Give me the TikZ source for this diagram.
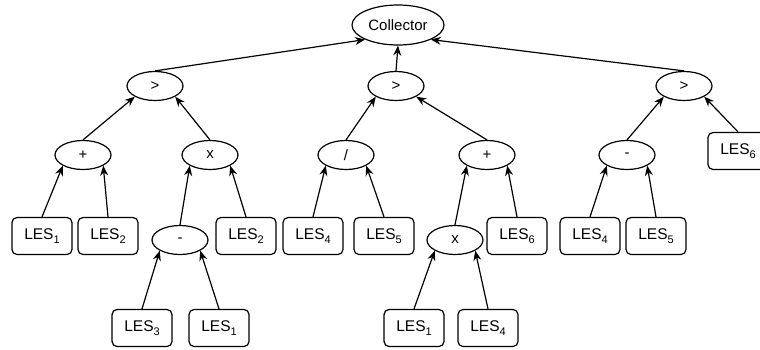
\documentclass[tikz,border=0pt]{standalone}
\usepackage{fontspec}
\setmainfont{Liberation Sans}
\usepackage{tikz}
\usetikzlibrary{
    arrows.meta,
    shapes.geometric,
}

\newcommand{\les}[1]{LES\raisebox{-3.5pt}{\fontsize{11}{12}\selectfont #1}}

\begin{document}
\begin{tikzpicture}[
        x=1pt, y=-1pt,
        >={Stealth[length=10pt, width=8pt]},
        op/.style={
            ellipse, draw=black, line width=1.2pt, fill=white,
            minimum width=56pt, minimum height=29pt, inner sep=0pt,
            font=\fontsize{15}{18}\selectfont
        },
        root/.style={op, minimum width=92pt, minimum height=40pt},
        leaf/.style={
            rectangle, rounded corners=5pt, draw=black, line width=1.2pt,
            fill=white, minimum width=60pt, minimum height=37pt,
            inner sep=0pt, font=\fontsize{15.5}{18}\selectfont
        },
        arrow/.style={->, line width=1.2pt, black},
    ]

    \useasboundingbox (0,0) rectangle (760,349);

    % ── Row 1: collector ──
    \node[root] (col) at (398,25) {Collector};

    % ── Row 2: comparisons ──
    \node[op] (gtA) at (155,86) {>};
    \node[op] (gtB) at (396,86) {>};
    \node[op] (gtC) at (684,86) {>};

    % ── Row 3: operators ──
    \node[op] (plusA) at (83,155) {+};
    \node[op] (timesA) at (210,155) {x};
    \node[op] (divB) at (346,155) {/};
    \node[op] (plusB) at (487,155) {+};
    \node[op] (minusC) at (627,155) {-};
    \node[leaf] (lesC6) at (738,151) {\les{6}};

    % ── Row 4: operands ──
    \node[leaf] (lesA1) at (42,236) {\les{1}};
    \node[leaf] (lesA2) at (108,236) {\les{2}};
    \node[op] (minusA) at (180,240) {-};
    \node[leaf] (lesA2b) at (246,236) {\les{2}};
    \node[leaf] (lesB4) at (313,236) {\les{4}};
    \node[leaf] (lesB5) at (384,236) {\les{5}};
    \node[op] (timesB) at (455,240) {x};
    \node[leaf] (lesB6) at (517,236) {\les{6}};
    \node[leaf] (lesC4) at (590,236) {\les{4}};
    \node[leaf] (lesC5) at (656,236) {\les{5}};

    % ── Row 5: operands ──
    \node[leaf] (lesA3) at (142,328) {\les{3}};
    \node[leaf] (lesA1b) at (219,328) {\les{1}};
    \node[leaf] (lesB1) at (414,328) {\les{1}};
    \node[leaf] (lesB4b) at (488,328) {\les{4}};

    % ── Arrows ──
    \draw[arrow] (gtA.north) -- (col.south west);
    \draw[arrow] (gtB.north) -- (col.south);
    \draw[arrow] (gtC.north) -- (col.south east);

    \draw[arrow] (plusA.north) -- (gtA.south west);
    \draw[arrow] (timesA.north) -- (gtA.south east);
    \draw[arrow] (divB.north) -- (gtB.south west);
    \draw[arrow] (plusB.north) -- (gtB.south east);
    \draw[arrow] (minusC.north) -- (gtC.south west);
    \draw[arrow] (lesC6.north) -- (gtC.south east);

    \draw[arrow] (lesA1.north) -- (plusA.south west);
    \draw[arrow] (lesA2.north) -- (plusA.south east);
    \draw[arrow] (minusA.north) -- (timesA.south west);
    \draw[arrow] (lesA2b.north) -- (timesA.south east);
    \draw[arrow] (lesB4.north) -- (divB.south west);
    \draw[arrow] (lesB5.north) -- (divB.south east);
    \draw[arrow] (timesB.north) -- (plusB.south west);
    \draw[arrow] (lesB6.north) -- (plusB.south east);
    \draw[arrow] (lesC4.north) -- (minusC.south west);
    \draw[arrow] (lesC5.north) -- (minusC.south east);

    \draw[arrow] (lesA3.north) -- (minusA.south west);
    \draw[arrow] (lesA1b.north) -- (minusA.south east);
    \draw[arrow] (lesB1.north) -- (timesB.south west);
    \draw[arrow] (lesB4b.north) -- (timesB.south east);

    \end{tikzpicture}
\end{document}
